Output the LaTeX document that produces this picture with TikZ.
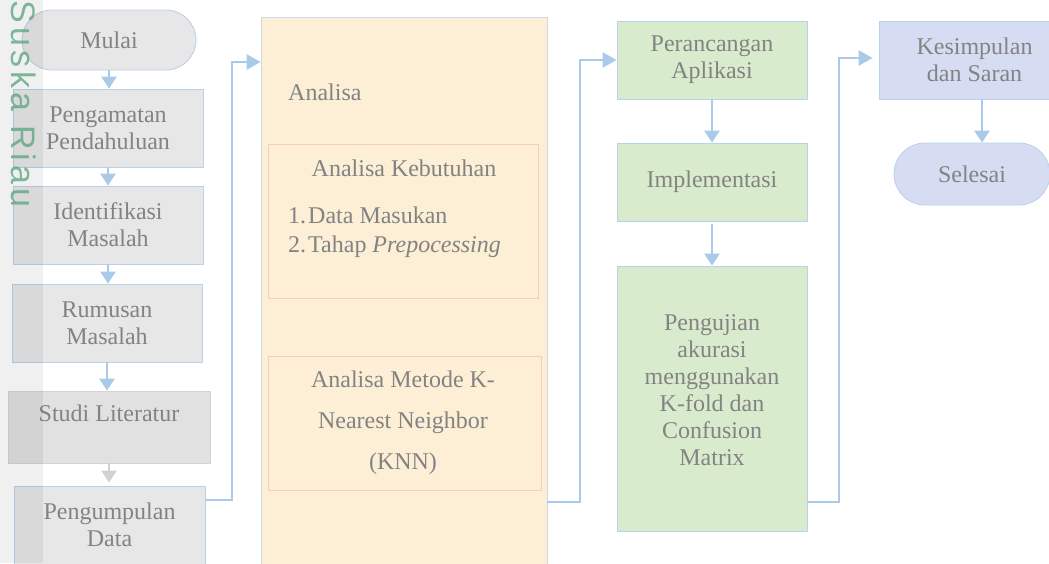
\documentclass[tikz,border=0pt]{standalone}
\usepackage{fontspec}
\setmainfont{Liberation Serif}
\newfontfamily\wmfont[LetterSpace=12]{Liberation Sans}
\usetikzlibrary{arrows.meta}
\definecolor{txtc}{HTML}{838383}
\definecolor{bordb}{HTML}{B9D1EA}
\definecolor{greyf}{HTML}{E7E7E7}
\definecolor{studif}{HTML}{E1E1E1}
\definecolor{studib}{HTML}{D4D4D4}
\definecolor{arrb}{HTML}{A9CAE8}
\definecolor{arrg}{HTML}{D2D2D2}
\definecolor{anaf}{HTML}{FDEFD5}
\definecolor{anab}{HTML}{C9D9E6}
\definecolor{innerb}{HTML}{F4CCC4}
\definecolor{greenf}{HTML}{D9EBCD}
\definecolor{lavf}{HTML}{D6DDF2}
\definecolor{wmgreen}{HTML}{5FA882}
\tikzset{
  txt/.style={text=txtc, font=\fontsize{24}{27}\selectfont, align=center, inner sep=0pt},
  gbox/.style={txt, rectangle, draw=bordb, fill=greyf, line width=0.8pt},
  sbox/.style={txt, rectangle, draw=studib, fill=studif, line width=0.8pt},
  abox/.style={rectangle, draw=anab, fill=anaf, line width=0.8pt, inner sep=0pt},
  ibox/.style={rectangle, draw=innerb, line width=0.4pt, inner sep=0pt},
  grbox/.style={txt, rectangle, draw=bordb, fill=greenf, line width=0.8pt},
  lbox/.style={txt, rectangle, draw=bordb, fill=lavf, line width=0.8pt},
  arr/.style={draw=arrb, line width=2.6pt, -{Triangle[width=15pt,length=12pt]}},
  conn/.style={draw=arrb, line width=2.6pt, -{Triangle[width=15pt,length=14pt]}},
}
\begin{document}
\begin{tikzpicture}[x=1pt,y=-1pt]
\useasboundingbox (0,0) rectangle (1049,563);
% left column
\node[gbox, rounded corners=30pt, minimum width=174pt, minimum height=60pt] (mulai) at (109,40) {Mulai};
\node[gbox, minimum width=190pt, minimum height=78pt] (peng) at (108,128) {Pengamatan\\Pendahuluan};
\node[gbox, minimum width=190pt, minimum height=78pt] (iden) at (108,225) {Identifikasi\\Masalah};
\node[gbox, minimum width=190pt, minimum height=78pt] (rumus) at (107,323) {Rumusan\\Masalah};
\node[sbox, minimum width=202pt, minimum height=72pt] (studi) at (109,427) {Studi Literatur\\\mbox{}};
\node[gbox, minimum width=191pt, minimum height=78pt] (pd) at (109.5,525) {Pengumpulan\\Data};
\draw[arr] (mulai.south) -- (mulai.south |- peng.north);
\draw[arr] (peng.south) -- (peng.south |- iden.north);
\draw[arr] (iden.south) -- (iden.south |- rumus.north);
\draw[arr] (rumus.south) -- (rumus.south |- studi.north);
\draw[arr, draw=arrg] (studi.south) -- ([yshift=3pt]studi.south |- pd.north);
% analisa column
\node[abox, minimum width=286pt, minimum height=560pt] (ana) at (404,297) {};
\node[txt, anchor=west] (anat) at (288,92) {Analisa};
\node[ibox, minimum width=270pt, minimum height=154pt] (keb) at (403,221) {};
\node[txt] (kebt) at (404,168) {Analisa Kebutuhan};
\node[txt, anchor=west, font=\fontsize{24}{29}\selectfont] (list) at (288,232)
  {\begin{tabular}{@{}l@{\hspace{2pt}}l@{}}1. & Data Masukan\\ 2. & Tahap \textit{Prepocessing}\end{tabular}};
\node[ibox, minimum width=273pt, minimum height=134pt] (knn) at (404.5,423) {};
\node[txt, font=\fontsize{24}{41}\selectfont] (knnt) at (403,423) {Analisa Metode K-\\Nearest Neighbor\\(KNN)};
% green column
\node[grbox, minimum width=190pt, minimum height=78pt] (per) at (712,60) {Perancangan\\Aplikasi};
\node[grbox, minimum width=190pt, minimum height=78pt] (imp) at (712,182) {Implementasi};
\node[grbox, minimum width=190pt, minimum height=265pt] (uji) at (712,398.5) {};
\node[txt] (ujit) at (712,390) {Pengujian\\akurasi\\menggunakan\\K-fold dan\\Confusion\\Matrix};
\draw[arr] (per.south) -- (imp.north);
\draw[arr] ([yshift=-3pt]imp.south) -- (uji.north);
% right column
\node[lbox, minimum width=191pt, minimum height=78pt] (kes) at (974.5,60) {Kesimpulan\\dan Saran};
\node[lbox, rounded corners=31pt, minimum width=156pt, minimum height=62pt] (sel) at (972,174) {Selesai};
\coordinate (ks) at (982,99);
\draw[arr] (ks |- kes.south) -- (ks |- sel.north);
% connectors between columns
\coordinate (c1a) at (232,500);
\coordinate (c1b) at (232,62);
\draw[conn] (pd.east |- c1a) -- (c1a) -- (c1b) -- (ana.west |- c1b);
\coordinate (c2a) at (580,502);
\coordinate (c2b) at (580,60);
\draw[conn] (ana.east |- c2a) -- (c2a) -- (c2b) -- (per.west |- c2b);
\coordinate (c3a) at (839,502);
\coordinate (c3b) at (839,58);
\draw[conn] (uji.east |- c3a) -- (c3a) -- (c3b) -- ([xshift=-6pt]kes.west |- c3b);
% left watermark band and text
\fill[black, opacity=0.06] (0,0) rectangle (43,563);
\node[text=wmgreen, opacity=0.8, rotate=-90, inner sep=0pt, font=\wmfont\fontsize{34}{38}\selectfont] (wm) at (24,104) {Suska Riau};
\end{tikzpicture}
\end{document}
